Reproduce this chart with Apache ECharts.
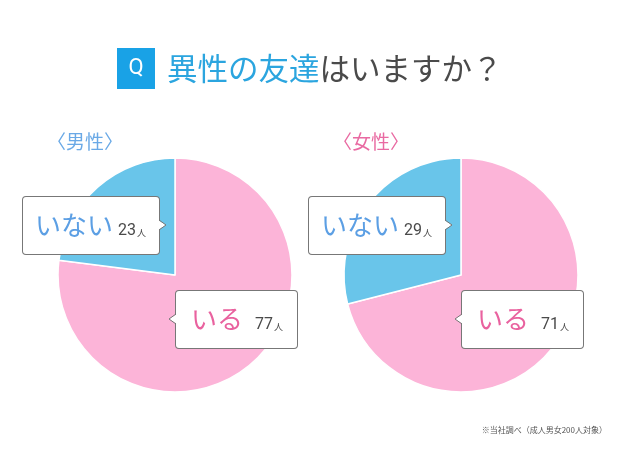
<!DOCTYPE html>
<html style="height: 100%">

<head>
    <meta charset="utf-8">
</head>

<body style="height: 100%; margin: 0; background: #fff">
    <div id="container" style="height: 100%"></div>
    <script type="text/javascript" src="https://cdn.jsdelivr.net/npm/echarts@6/dist/echarts.min.js"></script>
    <script type="text/javascript">
        // data
        var categories = ['いる', 'いない'];
        var groups = ['〈男性〉', '〈女性〉'];
        var maleValues = [77, 23];
        var femaleValues = [71, 29];
        var unit = '人';
        var note = '※当社調べ（成人男女200人対象）';

        var dom = document.getElementById("container");
        var myChart = echarts.init(dom);
        var font = 'Noto Sans CJK JP';

        // layout
        var centersX = [175, 461];
        var centerY = 275;
        var boxDX = [1, -152];
        var boxDY = [16, -78];
        var boxW = [121, 136];
        var boxH = 57;
        var padL = [15, 12];

        function makeData(values) {
            return categories.map(function (c, i) {
                return {
                    name: c,
                    value: values[i],
                    label: { width: boxW[i] - padL[i], padding: [0, 0, 0, padL[i]] }
                };
            });
        }

        function pieSeries(idx, values) {
            return {
                type: 'pie',
                center: [centersX[idx], centerY],
                radius: 117,
                startAngle: 90,
                clockwise: true,
                avoidLabelOverlap: false,
                silent: true,
                itemStyle: { borderColor: '#fff', borderWidth: 1.5 },
                color: ['#fcb4d8', '#69c5ea'],
                labelLine: { show: false },
                label: {
                    show: true,
                    position: 'inside',
                    formatter: function (p) {
                        return '{n' + p.dataIndex + '|' + p.name + '}{v' + p.dataIndex + '|' + p.value + '}{u|' + unit + '}';
                    },
                    backgroundColor: '#fff',
                    borderColor: '#777',
                    borderWidth: 1,
                    borderRadius: 3,
                    height: boxH,
                    rich: {
                        n0: { fontFamily: font, fontSize: 26, color: '#e9629f', lineHeight: boxH },
                        n1: { fontFamily: font, fontSize: 26, color: '#5c9fe4', lineHeight: boxH },
                        v0: { fontFamily: 'Roboto', fontSize: 16, color: '#4a4a4a', padding: [10, 0, 0, 12] },
                        v1: { fontFamily: 'Roboto', fontSize: 16, color: '#4a4a4a', padding: [10, 0, 0, 5] },
                        u: { fontFamily: font, fontSize: 9, color: '#4a4a4a', padding: [14, 0, 0, 1] }
                    }
                },
                labelLayout: function (p) {
                    return {
                        x: centersX[idx] + boxDX[p.dataIndex],
                        y: centerY + boxDY[p.dataIndex],
                        align: 'left',
                        verticalAlign: 'top'
                    };
                },
                data: makeData(values)
            };
        }

        // little pointer arrows on the callout boxes
        var pointers = [];
        centersX.forEach(function (cx) {
            categories.forEach(function (c, i) {
                var left = cx + boxDX[i];
                var top = centerY + boxDY[i];
                var my = top + 28;
                var ex, tx;
                if (i === 0) { ex = left; tx = left - 7; } else { ex = left + boxW[i]; tx = ex + 7; }
                pointers.push({
                    type: 'polygon', z: 100,
                    shape: { points: [[ex + (i === 0 ? 1 : -1), my - 5], [tx, my], [ex + (i === 0 ? 1 : -1), my + 5]] },
                    style: { fill: '#fff' }
                });
                pointers.push({
                    type: 'polyline', z: 101,
                    shape: { points: [[ex, my - 5], [tx, my], [ex, my + 5]] },
                    style: { stroke: '#777', lineWidth: 1, fill: null }
                });
            });
        });

        var option = {
            backgroundColor: '#fff',
            title: [{
                text: '{q|Q}{a|異性の友達}{b|はいますか？}',
                left: 117,
                top: 48,
                padding: 0,
                textStyle: {
                    fontWeight: 'normal',
                    rich: {
                        q: { fontFamily: 'Roboto', fontSize: 22, color: '#fff', backgroundColor: '#19a2e6', width: 38, height: 41, align: 'center', lineHeight: 41 },
                        a: { fontFamily: font, fontSize: 30.5, fontWeight: 'normal', color: '#2ba5df', padding: [0, 0, 0, 12] },
                        b: { fontFamily: font, fontSize: 30.5, fontWeight: 'normal', color: '#4a4a4a' }
                    }
                }
            }, {
                text: groups[0],
                left: 47,
                top: 132,
                padding: 0,
                textStyle: { fontFamily: font, fontSize: 19, fontWeight: 'normal', color: '#6aa9e6' }
            }, {
                text: groups[1],
                left: 333,
                top: 132,
                padding: 0,
                textStyle: { fontFamily: font, fontSize: 19, fontWeight: 'normal', color: '#e96aa2' }
            }, {
                text: note,
                right: 18,
                top: 426,
                padding: 0,
                textStyle: { fontFamily: font, fontSize: 8, fontWeight: 'normal', color: '#555' }
            }],
            series: [pieSeries(0, maleValues), pieSeries(1, femaleValues)],
            graphic: pointers
        };

        myChart.setOption(option);
    </script>
</body>

</html>
